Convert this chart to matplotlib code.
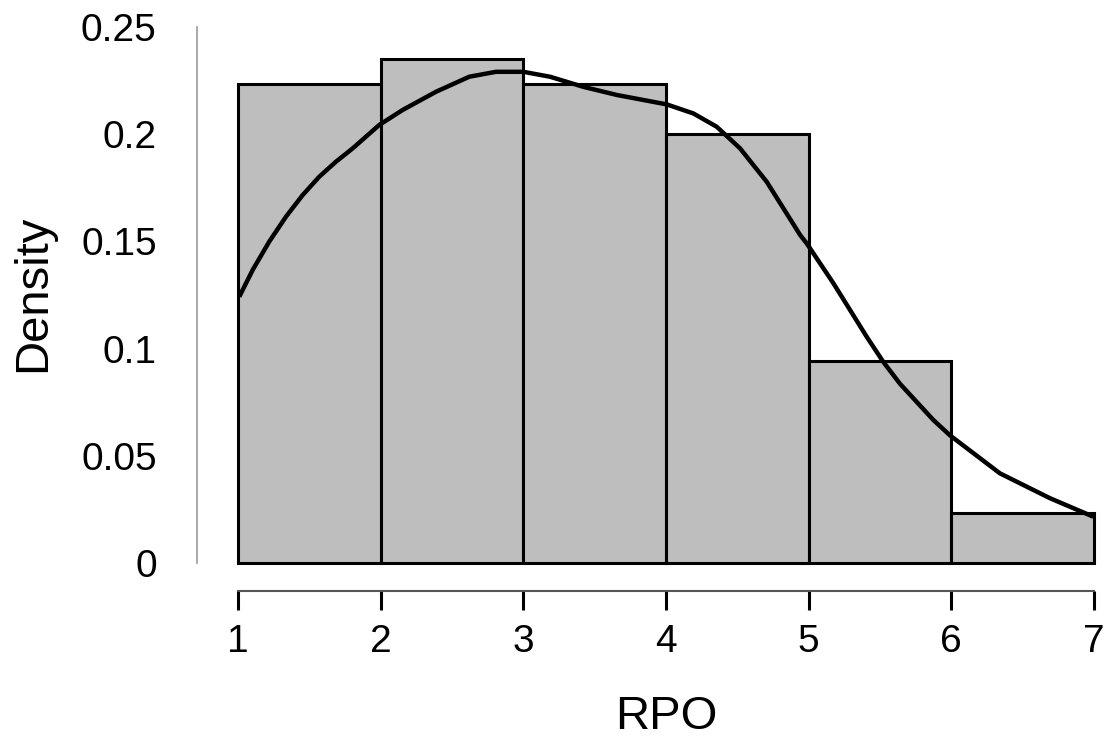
import matplotlib.pyplot as plt
import numpy as np

plt.rcParams['font.family'] = ['Liberation Sans', 'DejaVu Sans']

# histogram bins and densities
edges = [1, 2, 3, 4, 5, 6, 7]
density = [0.2235, 0.235, 0.2235, 0.2, 0.094, 0.0235]

# density curve
kde_x = [1.009, 1.103, 1.219, 1.336, 1.453, 1.570, 1.687, 1.804, 1.990,
         2.154, 2.388, 2.621, 2.808, 3.000, 3.187, 3.420, 3.655, 4.005,
         4.191, 4.355, 4.519, 4.706, 4.940, 4.986, 5.173, 5.407, 5.523,
         5.640, 5.874, 5.991, 6.341, 6.692, 6.995]
kde_y = [0.1242, 0.1367, 0.1499, 0.1615, 0.1716, 0.1802, 0.1872, 0.1934,
         0.2043, 0.2113, 0.2198, 0.2268, 0.2291, 0.2291, 0.2268, 0.2221,
         0.2183, 0.2139, 0.2097, 0.2035, 0.1934, 0.1778, 0.1530, 0.1491,
         0.1305, 0.1055, 0.0938, 0.0836, 0.0667, 0.0595, 0.0418, 0.0302,
         0.0216]

W, H = 1109, 737
fig = plt.figure(figsize=(W / 100, H / 100), dpi=100)
ax = fig.add_axes([197 / W, (H - 563) / H, (1094 - 197) / W, (563 - 27) / H])

ax.bar(edges[:-1], density, width=1, align='edge', color='#BEBEBE',
       edgecolor='black', linewidth=2.2, clip_on=False, zorder=2)
ax.plot(kde_x, kde_y, color='black', linewidth=3.2, solid_joinstyle='round',
        solid_capstyle='butt', clip_on=False, zorder=3)

ax.set_xlim(1 - 41 / 142.67, 7)
ax.set_ylim(0, 0.25)

for s in ['top', 'right']:
    ax.spines[s].set_visible(False)
ax.spines['left'].set_bounds(0, 0.25)
ax.spines['left'].set_color('#999999')
ax.spines['left'].set_linewidth(1.2)
ax.spines['bottom'].set_position(('outward', 20))
ax.spines['bottom'].set_bounds(1, 7)
ax.spines['bottom'].set_color('#555555')
ax.spines['bottom'].set_linewidth(1.5)

ax.set_xticks(edges)
ax.set_xticklabels([str(e) for e in edges])
ax.set_yticks([0, 0.05, 0.1, 0.15, 0.2, 0.25])
ax.set_yticklabels(['0', '0.05', '0.1', '0.15', '0.2', '0.25'])
ax.tick_params(axis='x', length=14, width=2.2, color='black', pad=10, labelsize=28)
ax.tick_params(axis='y', length=0, pad=29, labelsize=28)

fig.text(666 / W, 1 - 717 / H, 'RPO', fontsize=34, ha='center', va='center')
fig.text(33 / W, 1 - 293 / H, 'Density', fontsize=34, ha='center', va='center',
         rotation=90)

fig.savefig('out.png', dpi=100)
